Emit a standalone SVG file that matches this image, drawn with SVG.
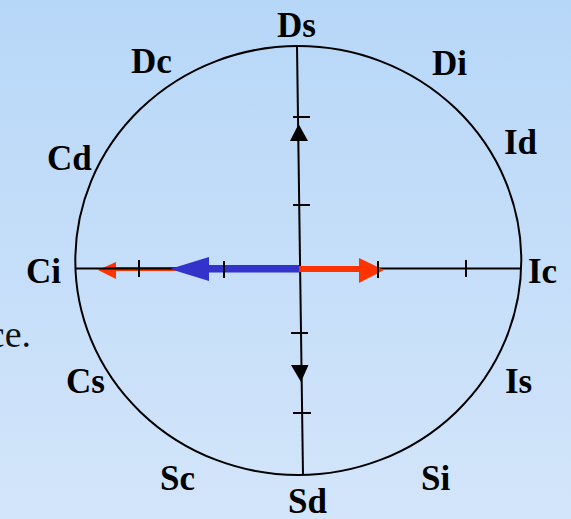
<svg xmlns="http://www.w3.org/2000/svg" width="571" height="519" viewBox="0 0 571 519">
<defs>
<linearGradient id="bg" x1="0" y1="0" x2="0" y2="1">
<stop offset="0" stop-color="#b7d7f8"/>
<stop offset="1" stop-color="#d3e5fa"/>
</linearGradient>
<style>
.lbl{font-family:"Liberation Serif","Times New Roman",serif;font-weight:bold;font-size:35px;fill:#000}
.ax{stroke:#000;stroke-width:2;fill:none}
.tk{stroke:#000;stroke-width:2}
</style>
</defs>
<rect width="571" height="519" fill="url(#bg)"/>
<text x="31" y="347" text-anchor="end" style="font-family:'Liberation Serif','Times New Roman',serif;font-size:38px;fill:#111">ce.</text>
<g id="circle">
<ellipse cx="298.3" cy="260.5" rx="223" ry="214.5" class="ax"/>
</g>
<g id="connectors">
<rect x="115" y="267" width="80" height="4" fill="#ff3300"/>
<polygon points="98,270 116,262 116,279" fill="#ff3300"/>
<line x1="75" y1="268.5" x2="521" y2="268.5" class="ax"/>
<line x1="297" y1="46" x2="303" y2="475" class="ax"/>
<rect x="208" y="265" width="91" height="7.5" fill="#3333cc"/>
<polygon points="170,269 209,257 209,281" fill="#3333cc"/>
<rect x="299" y="266" width="62" height="6" fill="#ff3300"/>
<polygon points="384,270 359,258 359,283" fill="#ff3300"/>
<line x1="139" y1="260" x2="139" y2="277" class="tk"/>
<line x1="224" y1="261" x2="224" y2="278" class="tk"/>
<line x1="378" y1="261" x2="378" y2="278" class="tk"/>
<line x1="466" y1="260" x2="466" y2="277" class="tk"/>
<line x1="293" y1="117" x2="310" y2="117" class="tk"/>
<line x1="293" y1="205" x2="310" y2="205" class="tk"/>
<line x1="291" y1="333" x2="308" y2="333" class="tk"/>
<line x1="293" y1="413" x2="311" y2="413" class="tk"/>
<polygon points="298.6,124 290,141 308,141" fill="#000"/>
<polygon points="301,382 291,365 308.5,365" fill="#000"/>
</g>
<g id="Ds"><text class="lbl" x="277" y="37">Ds</text></g>
<g id="Dc"><text class="lbl" x="131" y="73">Dc</text></g>
<g id="Di"><text class="lbl" x="432" y="75">Di</text></g>
<g id="Cd"><text class="lbl" x="47" y="170">Cd</text></g>
<g id="Id"><text class="lbl" x="504" y="154">Id</text></g>
<g id="Ci"><text class="lbl" x="26" y="283">Ci</text></g>
<g id="Ic"><text class="lbl" x="528" y="283">Ic</text></g>
<g id="Cs"><text class="lbl" x="66" y="393">Cs</text></g>
<g id="Is"><text class="lbl" x="505" y="393">Is</text></g>
<g id="Sc"><text class="lbl" x="160" y="490">Sc</text></g>
<g id="Si"><text class="lbl" x="421" y="490">Si</text></g>
<g id="Sd"><text class="lbl" x="288" y="513">Sd</text></g>
</svg>
